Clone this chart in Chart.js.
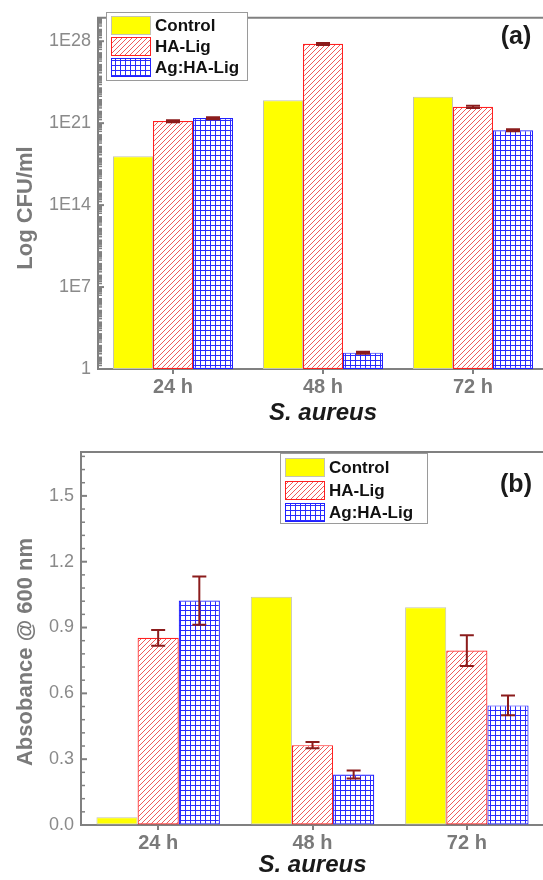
<!DOCTYPE html>
<html>
<head>
<meta charset="utf-8">
<script src="https://cdn.jsdelivr.net/npm/chart.js@4.4.1/dist/chart.umd.min.js"></script>
<style>
  html, body { margin: 0; padding: 0; background: #fff; overflow: hidden; width: 543px; height: 880px; }
  canvas { display: block; }
</style>
</head>
<body>
<canvas id="chartA" width="560" height="430"></canvas>
<canvas id="chartB" width="560" height="450"></canvas>
<script>
const categories = ['24 h', '48 h', '72 h'];
const seriesNames = ['Control', 'HA-Lig', 'Ag:HA-Lig'];

// (a) bacterial count, CFU/ml
const cfuControl = [1.5e18, 9e22, 1.8e23];
const cfuHaLig = [1.5e21, 6e27, 2.5e22];
const cfuAgHaLig = [2.7e21, 25, 2.5e20];
const cfuHaLigErr = [3e20, 1.2e27, 5e21];
const cfuAgHaLigErr = [5e20, 5, 5e19];
const cfuTicks = [1, 1e7, 1e14, 1e21, 1e28];

// (b) absorbance at 600 nm
const absControl = [0.035, 1.04, 0.992];
const absHaLig = [0.853, 0.364, 0.795];
const absAgHaLig = [1.023, 0.23, 0.545];
const absHaLigErr = [0.036, 0.014, 0.07];
const absAgHaLigErr = [0.11, 0.018, 0.045];
const absTicks = [0, 0.3, 0.6, 0.9, 1.2, 1.5];

const AXIS = '#808080';
const FONT = "'Liberation Sans', Arial, sans-serif";

function hatchPattern() {
    const c = document.createElement('canvas');
    c.width = 5; c.height = 5;
    const g = c.getContext('2d');
    g.fillStyle = '#ffffff';
    g.fillRect(0, 0, 5, 5);
    g.fillStyle = '#ef5a5a';
    for (let i = 0; i < 5; i++) g.fillRect(i, 4 - i, 1, 1);
    return g.createPattern(c, 'repeat');
}

function gridPattern() {
    const c = document.createElement('canvas');
    c.width = 5; c.height = 5;
    const g = c.getContext('2d');
    g.fillStyle = '#ffffff';
    g.fillRect(0, 0, 5, 5);
    g.fillStyle = '#2b2bff';
    g.fillRect(0, 0, 5, 1);
    g.fillRect(0, 0, 1, 5);
    return g.createPattern(c, 'repeat');
}

const hatch = hatchPattern();
const grid = gridPattern();

function makeDatasets(ctrl, ha, ag, haErr, agErr) {
    return [
        { label: seriesNames[0], data: ctrl, backgroundColor: '#ffff00', borderColor: '#c4c4b0', borderWidth: 1 },
        { label: seriesNames[1], data: ha, errors: haErr, backgroundColor: hatch, borderColor: '#ff2020', borderWidth: 1.2 },
        { label: seriesNames[2], data: ag, errors: agErr, backgroundColor: grid, borderColor: '#2020ff', borderWidth: 1.2 }
    ].map(d => Object.assign(d, { categoryPercentage: 0.8, barPercentage: 1.0, borderSkipped: false }));
}

// extras: inward ticks, top frame, error bars, legend box, titles
const decor = {
    id: 'decor',
    afterDatasetsDraw(chart, args, o) {
        const ctx = chart.ctx;
        const y = chart.scales.y;
        const area = chart.chartArea;
        ctx.save();
        // error bars
        ctx.strokeStyle = '#8b1c1c';
        ctx.lineWidth = 2;
        chart.data.datasets.forEach((ds, i) => {
            if (!ds.errors) return;
            chart.getDatasetMeta(i).data.forEach((bar, j) => {
                const v = ds.data[j], e = ds.errors[j];
                const top = y.getPixelForValue(v + e);
                const bot = y.getPixelForValue(v - e);
                ctx.beginPath();
                ctx.moveTo(bar.x, top); ctx.lineTo(bar.x, bot);
                ctx.moveTo(bar.x - 7, top); ctx.lineTo(bar.x + 7, top);
                ctx.moveTo(bar.x - 7, bot); ctx.lineTo(bar.x + 7, bot);
                ctx.stroke();
            });
        });
        // top frame line
        ctx.strokeStyle = AXIS;
        ctx.lineWidth = 2;
        ctx.beginPath();
        ctx.moveTo(area.left - 1, area.top);
        ctx.lineTo(chart.width, area.top);
        ctx.stroke();
        // inward ticks on y axis
        ctx.lineWidth = 1.5;
        o.minor.forEach(v => {
            const p = y.getPixelForValue(v);
            if (p < area.top || p > area.bottom) return;
            ctx.beginPath();
            ctx.moveTo(area.left, p); ctx.lineTo(area.left + 4, p);
            ctx.stroke();
        });
        ctx.lineWidth = 2;
        o.major.forEach(v => {
            const p = y.getPixelForValue(v);
            ctx.beginPath();
            ctx.moveTo(area.left, p); ctx.lineTo(area.left + 6, p);
            ctx.stroke();
        });
        // legend
        const L = o.legend;
        ctx.fillStyle = '#fff';
        ctx.fillRect(L.x, L.y, L.w, L.h);
        ctx.strokeStyle = '#9a9a9a';
        ctx.lineWidth = 1;
        ctx.strokeRect(L.x + 0.5, L.y + 0.5, L.w, L.h);
        ctx.font = 'bold 17px ' + FONT;
        ctx.textBaseline = 'middle';
        ctx.textAlign = 'left';
        chart.data.datasets.forEach((ds, i) => {
            const ry = Math.round(L.y + L.first + i * L.pitch);
            ctx.fillStyle = ds.backgroundColor;
            ctx.fillRect(L.x + 5, ry, 40, 19);
            ctx.strokeStyle = ds.borderColor;
            ctx.lineWidth = 1;
            ctx.strokeRect(L.x + 5.5, ry + 0.5, 39, 18);
            ctx.fillStyle = '#111';
            ctx.fillText(ds.label, L.x + 49, ry + 10);
        });
        // y title
        ctx.save();
        ctx.translate(26, o.yTitleY);
        ctx.rotate(-Math.PI / 2);
        ctx.font = 'bold 22px ' + FONT;
        ctx.fillStyle = '#7a7a7a';
        ctx.textAlign = 'center';
        ctx.fillText(o.yTitle, 0, 0);
        ctx.restore();
        // panel label
        ctx.font = 'bold 25px ' + FONT;
        ctx.fillStyle = '#1a1a1a';
        ctx.textAlign = 'center';
        ctx.fillText(o.panel, 516, o.panelY);
        ctx.restore();
    }
};

function xScale(height, titlePad) {
    return {
        type: 'category',
        afterFit: s => { s.height = height; },
        border: { color: AXIS, width: 2 },
        grid: { drawOnChartArea: false, drawTicks: true, tickLength: 5, offset: false, color: AXIS, lineWidth: 2 },
        ticks: { color: '#7a7a7a', padding: 1, font: { family: FONT, size: 20, weight: 'bold' } },
        title: { display: true, text: 'S. aureus', color: '#1a1a1a', padding: { top: 0, bottom: titlePad },
                 font: { family: FONT, size: 24, weight: 'bold', style: 'italic' } }
    };
}

const yTickStyle = { color: '#8a8a8a', padding: 7, font: { family: FONT, size: 18 } };

// minor tick positions
const cfuMinor = [];
for (let n = 0; n < 30; n++) {
    for (let k = 1; k < 10; k++) {
        const v = k * Math.pow(10, n);
        if (!cfuTicks.includes(v)) cfuMinor.push(v);
    }
}
const absMinor = [];
for (let i = 0; i <= 28; i++) {
    const v = Math.round(i * 6) / 100;
    if (i % 5 !== 0) absMinor.push(v);
}

new Chart(document.getElementById('chartA'), {
    type: 'bar',
    data: { labels: categories, datasets: makeDatasets(cfuControl, cfuHaLig, cfuAgHaLig, cfuHaLigErr, cfuAgHaLigErr) },
    plugins: [decor],
    options: {
        responsive: false,
        animation: false,
        layout: { padding: { top: 10, right: 12, bottom: 0, left: 0 } },
        plugins: {
            legend: { display: false },
            tooltip: { enabled: false },
            decor: {
                major: cfuTicks, minor: cfuMinor,
                yTitle: 'Log CFU/ml', yTitleY: 208,
                panel: '(a)', panelY: 37,
                legend: { x: 106, y: 12, w: 141, h: 68, first: 4, pitch: 21 }
            }
        },
        scales: {
            x: xScale(61, 2),
            y: {
                type: 'logarithmic',
                min: 1, max: 1e30,
                afterFit: s => { s.width = 98; },
                afterBuildTicks: s => { s.ticks = cfuTicks.map(v => ({ value: v })); },
                border: { color: AXIS, width: 2 },
                grid: { drawOnChartArea: false, drawTicks: false },
                ticks: Object.assign({}, yTickStyle, {
                    callback: v => v === 1 ? '1' : '1E' + Math.round(Math.log10(v))
                })
            }
        }
    }
});

new Chart(document.getElementById('chartB'), {
    type: 'bar',
    data: { labels: categories, datasets: makeDatasets(absControl, absHaLig, absAgHaLig, absHaLigErr, absAgHaLigErr) },
    plugins: [decor],
    options: {
        responsive: false,
        animation: false,
        layout: { padding: { top: 22, right: 16, bottom: 0, left: 0 } },
        plugins: {
            legend: { display: false },
            tooltip: { enabled: false },
            decor: {
                major: absTicks, minor: absMinor,
                yTitle: 'Absobance @ 600 nm', yTitleY: 222,
                panel: '(b)', panelY: 55,
                legend: { x: 280, y: 23, w: 147, h: 70, first: 5, pitch: 22.5 }
            }
        },
        scales: {
            x: xScale(55, 0),
            y: {
                type: 'linear',
                min: 0, max: 1.7,
                afterFit: s => { s.width = 81; },
                afterBuildTicks: s => { s.ticks = absTicks.map(v => ({ value: v })); },
                border: { color: AXIS, width: 2 },
                grid: { drawOnChartArea: false, drawTicks: false },
                ticks: Object.assign({}, yTickStyle, { callback: v => v.toFixed(1) })
            }
        }
    }
});
</script>
</body>
</html>
